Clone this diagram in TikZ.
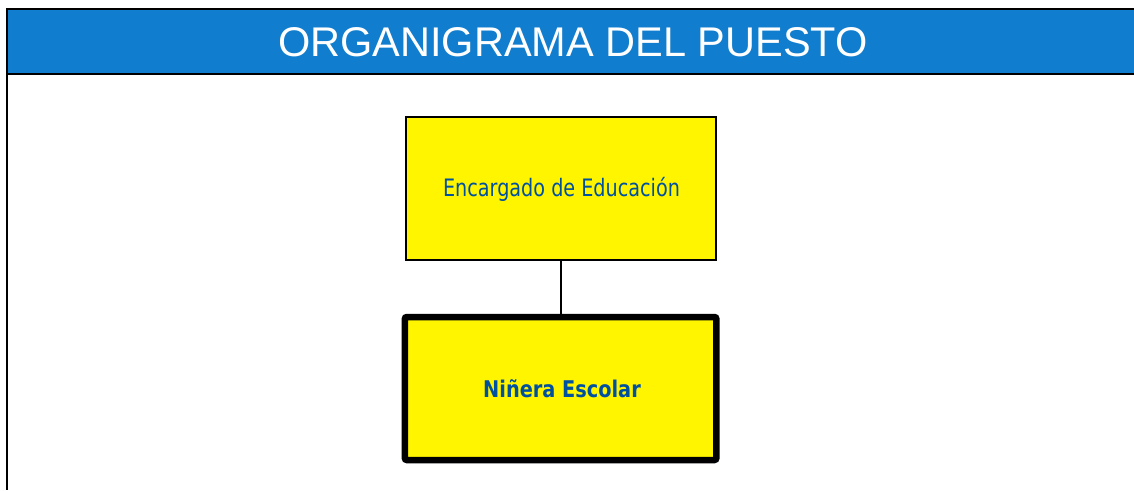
\documentclass[tikz,border=0pt]{standalone}
\usepackage{fontspec}
\setmainfont{Liberation Sans}
\newfontfamily\boxfont{DejaVu Sans}
\definecolor{bandblue}{RGB}{16,125,206}
\definecolor{textblue}{RGB}{0,80,160}
\definecolor{boxyellow}{RGB}{255,245,0}
\begin{document}
\begin{tikzpicture}[x=1pt,y=-1pt,
  rolebox/.style={draw=black,fill=boxyellow,inner sep=0pt,anchor=center},
  roletext/.style={text=textblue,inner sep=0pt,anchor=base}]
\useasboundingbox (0,0) rectangle (1134,490);
\fill[white] (0,0) rectangle (1134,490);
% header band
\fill[bandblue] (7,8.8) rectangle (1134,74);
\draw[line width=1.6pt] (7,8.8) -- (1134,8.8);
\draw[line width=2pt] (7,73.8) -- (1134,73.8);
\draw[line width=2pt] (7,8) -- (7,490);
\node[text=white,inner sep=0pt,anchor=base] (title) at (573,56.7)
  {\fontsize{41.5}{48}\selectfont ORGANIGRAMA DEL PUESTO};
% boxes
\node[rolebox,line width=2pt,minimum width=310pt,minimum height=142.5pt] (boss) at (560.6,188.3) {};
\node[rolebox,line width=6.5pt,rounded corners=2pt,minimum width=311.5pt,minimum height=143pt] (job) at (560.6,388.5) {};
\draw[line width=2pt] (boss.south) -- (job.north);
\node[roletext] (bosstext) at (561.5,196.7)
  {\scalebox{0.8}[1]{\boxfont\fontsize{24}{28}\selectfont Encargado de Educación}};
\node[roletext] (jobtext) at (562,397.7)
  {\scalebox{0.84}[1]{\boxfont\bfseries\fontsize{23}{27}\selectfont Niñera Escolar}};
\end{tikzpicture}
\end{document}
